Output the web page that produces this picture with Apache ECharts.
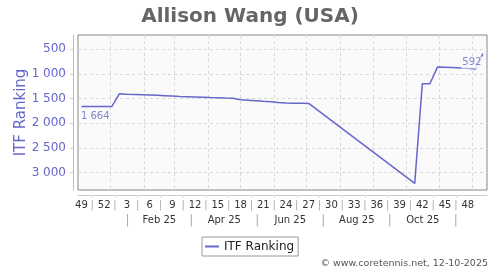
<!DOCTYPE html>
<html><head><meta charset="utf-8">
<script src="https://cdn.jsdelivr.net/npm/echarts@6/dist/echarts.min.js"></script>
<style>html,body{margin:0;padding:0;background:#fff}#c{width:500px;height:270px}</style>
</head><body><div id="c"></div>
<script>
const chartTitle = 'Allison Wang (USA)';
const seriesName = 'ITF Ranking';
const credit = '\u00a9 www.coretennis.net, 12-10-2025';

const dates = [
  '2024-12-05','2024-12-12','2024-12-19','2024-12-26','2025-01-02','2025-01-09',
  '2025-01-16','2025-01-23','2025-01-30','2025-02-06','2025-02-13','2025-02-20',
  '2025-02-27','2025-03-06','2025-03-13','2025-03-20','2025-03-27','2025-04-03',
  '2025-04-10','2025-04-17','2025-04-24','2025-05-01','2025-05-08','2025-05-15',
  '2025-05-22','2025-05-29','2025-06-05','2025-06-12','2025-06-19','2025-06-26',
  '2025-07-03','2025-10-09','2025-10-16','2025-10-23','2025-10-30','2025-11-06',
  '2025-11-13','2025-11-20','2025-11-27','2025-12-04','2025-12-11'
];
const ranks = [
  1664,1664,1664,1664,1664,1405,
  1412,1418,1424,1430,1436,1443,
  1450,1458,1464,1470,1476,1482,
  1486,1490,1493,1527,1535,1545,
  1556,1566,1580,1592,1596,1598,
  1600,3215,1203,1203,865,870,
  875,882,890,905,592
];
const labeledIdx = [0, ranks.length - 1];

const yTicks = [500, 1000, 1500, 2000, 2500, 3000];
const weekLabels = ['49','52','3','6','9','12','15','18','21','24','27','30','33','36','39','42','45','48'];
const firstWeekLabelDate = '2024-12-05';
const weekStep = 21;
const monthLabels = ['Feb 25','Apr 25','Jun 25','Aug 25','Oct 25'];
const monthLabelMonths = ['2025-02','2025-04','2025-06','2025-08','2025-10'];
const monthSepMonths = ['2025-01','2025-03','2025-05','2025-07','2025-09','2025-11'];
const gridMonths = ['2025-01','2025-02','2025-03','2025-04','2025-05','2025-06','2025-07','2025-08','2025-09','2025-10','2025-11','2025-12'];

const DAY0 = Date.parse('2025-01-01');
const day = s => (Date.parse(s) - DAY0) / 864e5;
const nextMonth = m => { let [y, mo] = m.split('-').map(Number); mo++; if (mo > 12) { mo = 1; y++; } return y + '-' + String(mo).padStart(2, '0'); };
const monthMid = m => (day(m + '-01') + day(nextMonth(m) + '-01')) / 2;
const fmt = v => v >= 1000 ? Math.floor(v / 1000) + ' ' + String(v % 1000).padStart(3, '0') : String(v);

const xMin = -30.2, xMax = 347.8;
const weekDays = weekLabels.map((_, i) => day(firstWeekLabelDate) + i * weekStep);
const weekSepDays = weekDays.slice(0, -1).map(d => d + weekStep / 2 - 0.5);
const monthDays = monthLabelMonths.map(monthMid);
const monthSepDays = monthSepMonths.map(monthMid);
const gridDays = gridMonths.map(m => day(m + '-01'));

const key = v => Math.round(v * 10);
const weekMap = new Map();
weekDays.forEach((d, i) => weekMap.set(key(d), weekLabels[i]));
weekSepDays.forEach(d => weekMap.set(key(d), '{s||}'));
const monthMap = new Map();
monthDays.forEach((d, i) => monthMap.set(key(d), monthLabels[i]));
monthSepDays.forEach(d => monthMap.set(key(d), '{s||}'));

const FONT = 'DejaVu Sans';
const COLOR = '#6666cc';
const lineData = dates.map((d, i) => [day(d), ranks[i]]);

const xBase = { type: 'value', min: xMin, max: xMax, gridIndex: 0, position: 'bottom' };
const chart = echarts.init(document.getElementById('c'), null, { renderer: 'canvas' });
chart.setOption({
  animation: false,
  backgroundColor: '#fff',
  textStyle: { fontFamily: FONT },
  title: { text: chartTitle, left: 'center', top: 2, textStyle: { fontSize: 20, fontWeight: 'bold', color: '#666', fontFamily: FONT } },
  grid: { left: 78, right: 13, top: 35, bottom: 80, show: true, backgroundColor: '#fafafa', borderColor: '#888', borderWidth: 1, outerBoundsMode: 'none' },
  legend: {
    data: [{ name: seriesName, icon: 'rect' }], left: 202, top: 237, padding: [3, 4, 3, 3], itemWidth: 14, itemHeight: 2, itemGap: 5,
    borderColor: '#999', borderWidth: 1, backgroundColor: '#fff',
    itemStyle: { color: COLOR },
    textStyle: { fontSize: 12, color: '#222', fontFamily: FONT, lineHeight: 13 }
  },
  xAxis: [
    Object.assign({}, xBase, {
      axisLine: { show: false, onZero: false }, axisTick: { show: false, customValues: gridDays }, axisLabel: { show: false },
      splitLine: { show: true, lineStyle: { color: '#d8d8d8', type: [3, 3] } }
    }),
    Object.assign({}, xBase, {
      offset: 5,
      axisLine: { show: true, onZero: false, lineStyle: { color: '#ccc' } },
      axisTick: { show: true, customValues: weekSepDays, length: 3, lineStyle: { color: '#ddd' } },
      axisLabel: { customValues: weekDays.concat(weekSepDays), margin: 5, fontSize: 10, color: '#333',
        formatter: v => weekMap.get(key(v)) || '', rich: { s: { color: '#aaa', fontSize: 10 } } },
      splitLine: { show: false }
    }),
    Object.assign({}, xBase, {
      offset: 5,
      axisLine: { show: false, onZero: false }, axisTick: { show: false },
      axisLabel: { customValues: monthDays.concat(monthSepDays), margin: 20, fontSize: 10, color: '#333',
        formatter: v => monthMap.get(key(v)) || '', rich: { s: { color: '#aaa', fontSize: 12 } } },
      splitLine: { show: false }
    })
  ],
  yAxis: {
    type: 'value', inverse: true, min: 216, max: 3350, offset: 5, position: 'left',
    name: seriesName, nameLocation: 'middle', nameGap: 44, nameMoveOverlap: false,
    nameTextStyle: { color: COLOR, fontSize: 15, fontFamily: FONT },
    axisLine: { show: true, onZero: false, lineStyle: { color: '#b8b8e8' } },
    axisTick: { show: true, customValues: yTicks, length: 3, lineStyle: { color: '#ccc' } },
    axisLabel: { customValues: yTicks, formatter: v => fmt(v), color: COLOR, fontSize: 12, margin: 7 },
    splitLine: { show: true, lineStyle: { color: '#d8d8d8', type: [3, 3] } }
  },
  series: [
    {
      name: seriesName, type: 'line', xAxisIndex: 0, data: lineData,
      symbol: 'none', showSymbol: false, color: COLOR,
      lineStyle: { color: COLOR, width: 1.5 }, silent: true, z: 3
    },
    {
      name: 'labels', type: 'scatter', xAxisIndex: 0, symbolSize: 1, silent: true, z: 4,
      itemStyle: { color: 'transparent' },
      data: labeledIdx.map((i, k) => ({
        value: lineData[i],
        label: k === 0
          ? { show: true, position: 'right', distance: 0, offset: [-1, 10], formatter: () => fmt(ranks[i]), color: COLOR, fontSize: 10 }
          : { show: true, position: 'left', distance: 0, offset: [0, 9], formatter: () => fmt(ranks[i]), color: COLOR, fontSize: 10,
              backgroundColor: '#fafafa', padding: [1, 1] }
      }))
    }
  ],
  graphic: [
    { type: 'text', right: 12, top: 259, style: { text: credit, fontSize: 9.5, fill: '#555', fontFamily: FONT } }
  ]
});
</script>
</body></html>
